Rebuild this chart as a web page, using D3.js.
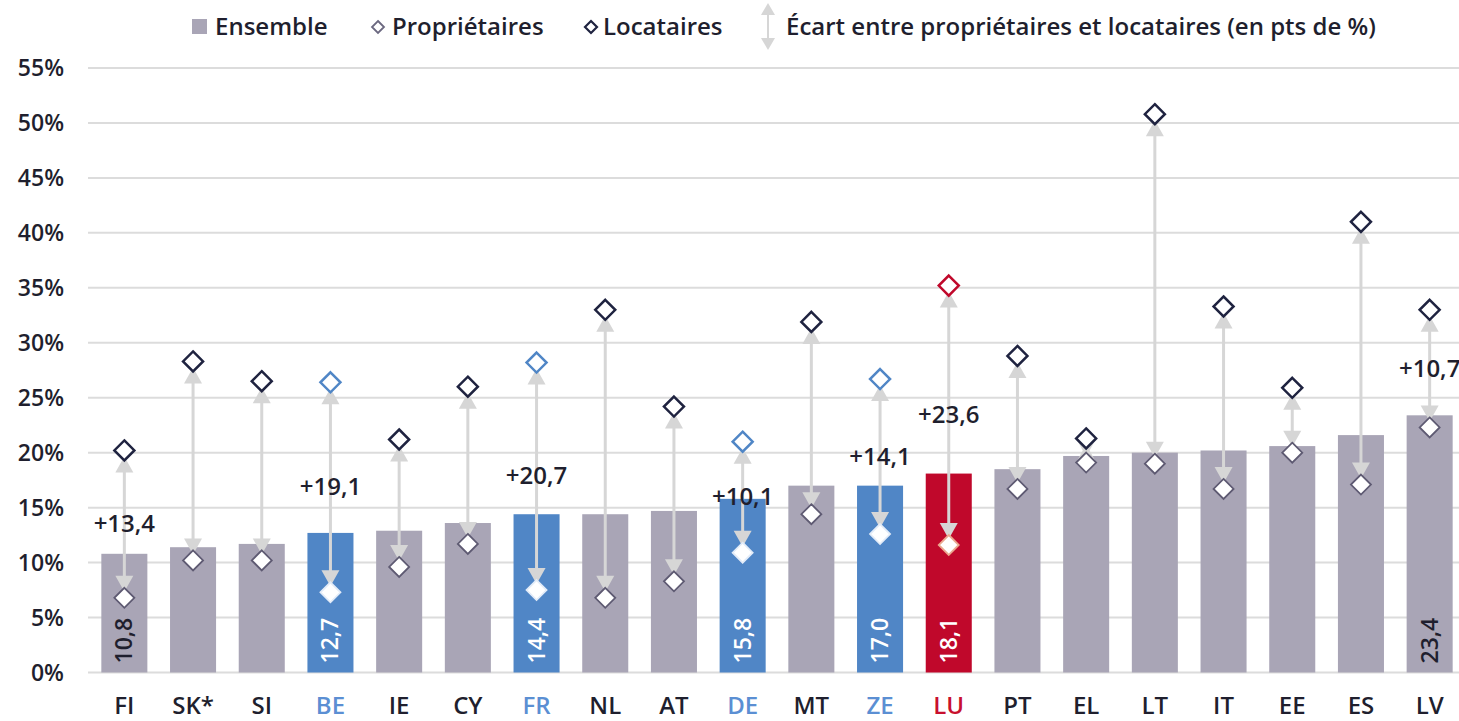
<!DOCTYPE html>
<html>
<head>
<meta charset="utf-8">
<script src="https://cdn.jsdelivr.net/npm/d3@7"></script>
<style>
  body { margin: 0; background: #fff; }
  text { font-family: "Open Sans", sans-serif; font-weight: 600; }
</style>
</head>
<body>
<svg id="chart" width="1459" height="721"></svg>
<script>
// country codes, ensemble rate, owners, tenants
var countries = ["FI", "SK*", "SI", "BE", "IE", "CY", "FR", "NL", "AT", "DE",
  "MT", "ZE", "LU", "PT", "EL", "LT", "IT", "EE", "ES", "LV"];
var ensemble = [10.8, 11.4, 11.7, 12.7, 12.9, 13.6, 14.4, 14.4, 14.7, 15.8,
  17.0, 17.0, 18.1, 18.5, 19.7, 20.0, 20.2, 20.6, 21.6, 23.4];
var proprietaires = [6.8, 10.2, 10.2, 7.3, 9.6, 11.7, 7.5, 6.8, 8.3, 10.9,
  14.4, 12.6, 11.6, 16.7, 19.1, 19.0, 16.7, 20.0, 17.1, 22.3];
var locataires = [20.2, 28.3, 26.5, 26.4, 21.2, 26.0, 28.2, 33.0, 24.2, 21.0,
  31.9, 26.7, 35.2, 28.8, 21.3, 50.8, 33.3, 25.9, 41.0, 33.0];
var yTicks = [0, 5, 10, 15, 20, 25, 30, 35, 40, 45, 50, 55];
var highlightBlue = ["BE", "FR", "DE", "ZE"];
var highlightRed = ["LU"];
var labelled = ["FI", "BE", "FR", "DE", "ZE", "LU", "LV"];

var GREY = "#a9a5b6", BLUE = "#5086c6", RED = "#c0082b",
  NAVY = "#1f2340", INK = "#1f1f2e", ARROW = "#d6d6d6";

var data = countries.map(function (c, i) {
  return { c: c, ens: ensemble[i], prop: proprietaires[i], loc: locataires[i] };
});

var kind = function (d) {
  if (highlightRed.indexOf(d.c) >= 0) { return "red"; }
  if (highlightBlue.indexOf(d.c) >= 0) { return "blue"; }
  return "grey";
};
var barColor = { grey: GREY, blue: BLUE, red: RED };
var locStroke = { grey: NAVY, blue: BLUE, red: RED };
var propStroke = { grey: "#5e5a72", blue: "#e3ecf8", red: "#eba88f" };
var labelColor = { grey: INK, blue: "#5b8fd3", red: "#c8102e" };

var fmt = function (v) { return v.toFixed(1).replace(".", ","); };

var svg = d3.select("#chart");

var x = d3.scaleBand().domain(countries).range([90, 1464])
  .paddingInner(0.33).paddingOuter(0.165);
var y = d3.scaleLinear().domain([0, 55]).range([672.5, 68]);

// gridlines
svg.append("g").selectAll("line").data(yTicks).enter().append("line")
  .attr("x1", 88).attr("x2", 1459)
  .attr("y1", function (d) { return y(d); })
  .attr("y2", function (d) { return y(d); })
  .attr("stroke", "#dcdcdc").attr("stroke-width", 2);

// y labels
svg.append("g").selectAll("text").data(yTicks).enter().append("text")
  .attr("x", 64).attr("y", function (d) { return y(d) + 8; })
  .attr("text-anchor", "end").attr("font-size", 23).attr("fill", INK)
  .text(function (d) { return d + "%"; });

// bars
svg.append("g").selectAll("rect").data(data).enter().append("rect")
  .attr("x", function (d) { return x(d.c); })
  .attr("width", x.bandwidth())
  .attr("y", function (d) { return y(d.ens); })
  .attr("height", function (d) { return y(0) - y(d.ens); })
  .attr("fill", function (d) { return barColor[kind(d)]; });

// bar values
svg.append("g").selectAll("text")
  .data(data.filter(function (d) { return labelled.indexOf(d.c) >= 0; }))
  .enter().append("text")
  .attr("transform", function (d) {
    return "translate(" + (x(d.c) + x.bandwidth() / 2 + 8) + "," + (y(0) - 9) + ") rotate(-90)";
  })
  .attr("font-size", 23)
  .attr("fill", function (d) { return kind(d) === "grey" ? INK : "#fff"; })
  .text(function (d) { return fmt(d.ens); });

// arrows
var cx = function (d) { return x(d.c) + x.bandwidth() / 2; };
var arrows = svg.append("g");
arrows.selectAll("line").data(data).enter().append("line")
  .attr("x1", cx).attr("x2", cx)
  .attr("y1", function (d) { return y(d.loc) + 10; })
  .attr("y2", function (d) { return y(d.prop) - 10; })
  .attr("stroke", ARROW).attr("stroke-width", 3);
arrows.selectAll("path.up").data(data).enter().append("path")
  .attr("class", "up")
  .attr("d", function (d) {
    var t = y(d.loc) + 6;
    return "M" + cx(d) + "," + t + "L" + (cx(d) + 9) + "," + (t + 16) +
      "L" + (cx(d) - 9) + "," + (t + 16) + "Z";
  })
  .attr("fill", ARROW);
arrows.selectAll("path.down").data(data).enter().append("path")
  .attr("class", "down")
  .attr("d", function (d) {
    var t = y(d.prop) - 6;
    return "M" + cx(d) + "," + t + "L" + (cx(d) + 9) + "," + (t - 16) +
      "L" + (cx(d) - 9) + "," + (t - 16) + "Z";
  })
  .attr("fill", ARROW);

var diamond = function (px, py, r) {
  return "M" + px + "," + (py - r) + "L" + (px + r) + "," + py +
    "L" + px + "," + (py + r) + "L" + (px - r) + "," + py + "Z";
};

// markers
svg.append("g").selectAll("path").data(data).enter().append("path")
  .attr("d", function (d) { return diamond(cx(d), y(d.prop), 10); })
  .attr("fill", "#fff")
  .attr("stroke", function (d) { return propStroke[kind(d)]; })
  .attr("stroke-width", 1.8);
svg.append("g").selectAll("path").data(data).enter().append("path")
  .attr("d", function (d) { return diamond(cx(d), y(d.loc), 10); })
  .attr("fill", "#fff")
  .attr("stroke", function (d) { return locStroke[kind(d)]; })
  .attr("stroke-width", 2.5);

// gap labels
svg.append("g").selectAll("text")
  .data(data.filter(function (d) { return labelled.indexOf(d.c) >= 0; }))
  .enter().append("text")
  .attr("x", cx)
  .attr("y", function (d) { return y((d.loc + d.prop) / 2) + 8; })
  .attr("text-anchor", "middle").attr("font-size", 24).attr("fill", INK)
  .text(function (d) { return "+" + fmt(d.loc - d.prop); });

// x labels
svg.append("g").selectAll("text").data(data).enter().append("text")
  .attr("x", cx).attr("y", 714)
  .attr("text-anchor", "middle").attr("font-size", 24)
  .attr("fill", function (d) { return labelColor[kind(d)]; })
  .text(function (d) { return d.c; });

// legend
var lg = svg.append("g");
lg.append("rect").attr("x", 192).attr("y", 19).attr("width", 15).attr("height", 15)
  .attr("fill", GREY);
lg.append("text").attr("x", 215).attr("y", 35).attr("font-size", 24).attr("fill", INK)
  .text("Ensemble");
lg.append("path").attr("d", diamond(378, 27, 6)).attr("fill", "#fff")
  .attr("stroke", "#6b6880").attr("stroke-width", 1.8);
lg.append("text").attr("x", 392).attr("y", 35).attr("font-size", 24).attr("fill", INK)
  .text("Propriétaires");
lg.append("path").attr("d", diamond(591, 27, 6)).attr("fill", "#fff")
  .attr("stroke", NAVY).attr("stroke-width", 2.2);
lg.append("text").attr("x", 603).attr("y", 35).attr("font-size", 24).attr("fill", INK)
  .text("Locataires");
lg.append("line").attr("x1", 768).attr("x2", 768).attr("y1", 10).attr("y2", 44)
  .attr("stroke", ARROW).attr("stroke-width", 2);
lg.append("path").attr("d", "M768,3L775,15L761,15Z").attr("fill", ARROW);
lg.append("path").attr("d", "M768,50L775,38L761,38Z").attr("fill", ARROW);
lg.append("text").attr("x", 786).attr("y", 35).attr("font-size", 24).attr("fill", INK)
  .text("Écart entre propriétaires et locataires (en pts de %)");
</script>
</body>
</html>
